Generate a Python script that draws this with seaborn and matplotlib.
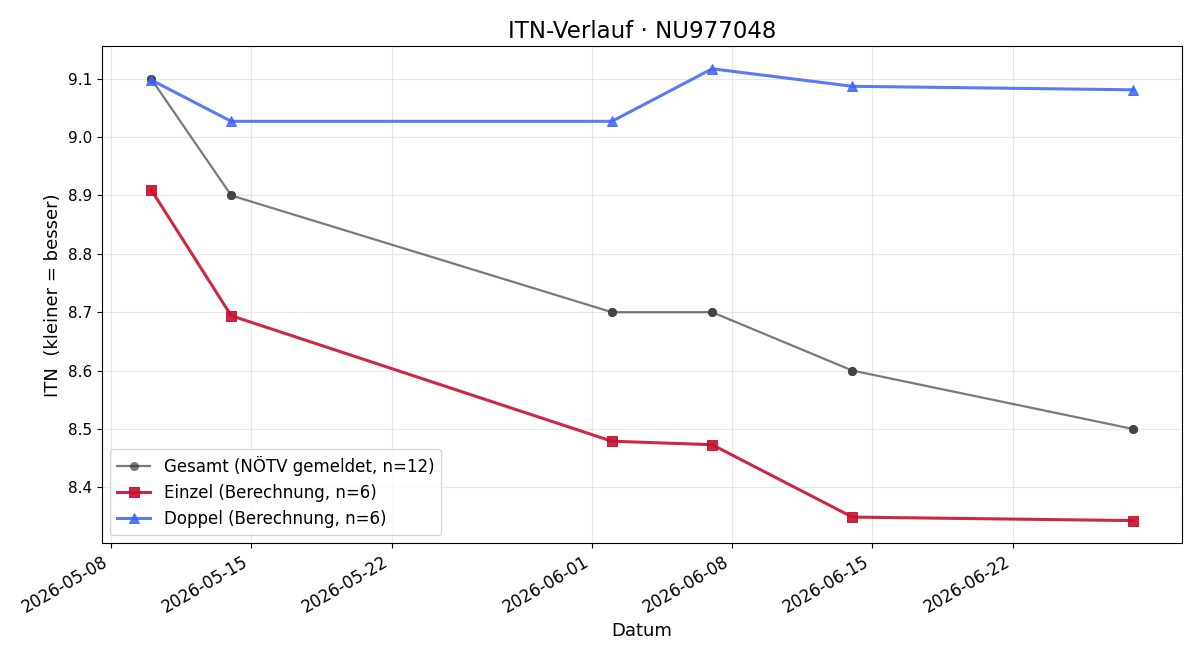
import pandas as pd
import matplotlib
matplotlib.use("Agg")
import matplotlib.pyplot as plt
import seaborn as sns

# values
gesamt_dates = ["2026-05-10", "2026-05-14", "2026-06-02", "2026-06-07", "2026-06-14", "2026-06-28"]
gesamt_itn = [9.1, 8.9, 8.7, 8.7, 8.6, 8.5]

einzel_dates = ["2026-05-10", "2026-05-14", "2026-06-02", "2026-06-07", "2026-06-14", "2026-06-28"]
einzel_itn = [8.910, 8.694, 8.479, 8.473, 8.349, 8.343]

doppel_dates = ["2026-05-10", "2026-05-14", "2026-06-02", "2026-06-07", "2026-06-14", "2026-06-28"]
doppel_itn = [9.098, 9.027, 9.027, 9.117, 9.087, 9.081]

df_g = pd.DataFrame({"Datum": pd.to_datetime(gesamt_dates), "ITN": gesamt_itn})
df_e = pd.DataFrame({"Datum": pd.to_datetime(einzel_dates), "ITN": einzel_itn})
df_d = pd.DataFrame({"Datum": pd.to_datetime(doppel_dates), "ITN": doppel_itn})

fig, ax = plt.subplots(figsize=(12, 6.6), dpi=100)

sns.lineplot(data=df_g, x="Datum", y="ITN", ax=ax, color="#333333", alpha=0.65,
             linewidth=1.6, marker="o", markersize=6.5, markeredgewidth=0,
             label="Gesamt (NÖTV gemeldet, n=12)")
# darker dots on top of the gray line
ax.plot(df_g["Datum"], df_g["ITN"], linestyle="none", marker="o", markersize=6.5,
        color="#444444", markeredgewidth=0)
sns.lineplot(data=df_e, x="Datum", y="ITN", ax=ax, color="#c8102e", alpha=0.9,
             linewidth=2.2, marker="s", markersize=7, markeredgecolor="#c8102e",
             label="Einzel (Berechnung, n=6)")
sns.lineplot(data=df_d, x="Datum", y="ITN", ax=ax, color="#3d63f5", alpha=0.85,
             linewidth=2.2, marker="^", markersize=7, markeredgecolor="#3d63f5",
             label="Doppel (Berechnung, n=6)")

ax.set_title("ITN-Verlauf · NU977048", fontsize=16.5)
ax.set_xlabel("Datum", fontsize=13)
ax.set_ylabel("ITN  (kleiner = besser)", fontsize=13)
ax.tick_params(axis="y", labelsize=11)
ax.tick_params(axis="x", labelsize=12)
ax.grid(True, alpha=0.3)
ax.legend(loc="lower left", fontsize=12)
fig.autofmt_xdate()
fig.subplots_adjust(left=0.085, right=0.985, top=0.930, bottom=0.177)
fig.savefig("out.png")
